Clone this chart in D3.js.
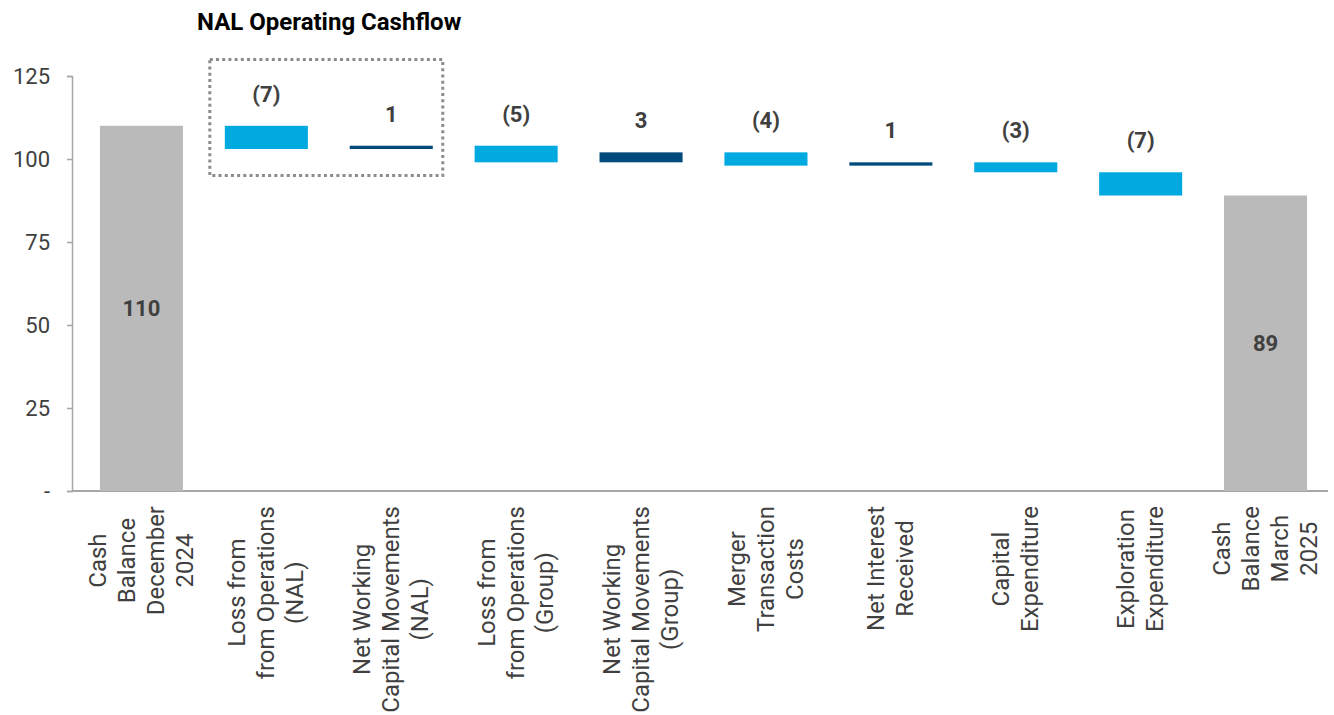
<!DOCTYPE html>
<html>
<head>
<meta charset="utf-8">
<script src="https://cdn.jsdelivr.net/npm/d3@7"></script>
<style>
  body { margin: 0; background: #fff; }
  text { font-family: Roboto, "Liberation Sans", sans-serif; }
</style>
</head>
<body>
<div id="chart"></div>
<script>
// Chart data
var categories = [
  ["Cash", "Balance", "December", "2024"],
  ["Loss from", "from Operations", "(NAL)"],
  ["Net Working", "Capital Movements", "(NAL)"],
  ["Loss from", "from Operations", "(Group)"],
  ["Net Working", "Capital Movements", "(Group)"],
  ["Merger", "Transaction", "Costs"],
  ["Net Interest", "Received"],
  ["Capital", "Expenditure"],
  ["Exploration", "Expenditure"],
  ["Cash", "Balance", "March", "2025"]
];
var values = [110, -7, 1, -5, 3, -4, 1, -3, -7, 89];
var kinds = ["total", "step", "step", "step", "step", "step", "step", "step", "step", "total"];
var yTicks = [0, 25, 50, 75, 100, 125];
var title = "NAL Operating Cashflow";

// SVG Object Dimensions
var svgWidth = 1334;
var svgHeight = 715;

var svg = d3.select("#chart")
  .append("svg")
  .attr("width", svgWidth)
  .attr("height", svgHeight);

// build waterfall rows
var running = 0;
var rows = values.map(function(v, i) {
  var r = { i: i, value: v, kind: kinds[i] };
  if (kinds[i] == "total") {
    r.y0 = 0; r.y1 = v; running = v;
  } else {
    r.y0 = running; r.y1 = running + v; running = running + v;
  }
  return r;
});

var xScale = d3.scaleBand()
  .domain(d3.range(categories.length))
  .range([79, 1328])
  .paddingInner(0.335)
  .paddingOuter(0.1675);

var yScale = d3.scaleLinear()
  .domain([0, 125])
  .range([491, 76]);

// Y axis
var leftAxis = d3.axisLeft(yScale)
  .tickValues(yTicks)
  .tickSize(5)
  .tickPadding(17)
  .tickFormat(function(d) { return d == 0 ? "-" : d; });

var yAxisG = svg.append("g")
  .attr("transform", "translate(72,0)")
  .call(leftAxis);
yAxisG.select(".domain").attr("stroke", "#a6a6a6").attr("stroke-width", 1.5);
yAxisG.selectAll(".tick line").attr("stroke", "#a6a6a6").attr("stroke-width", 1.5);
yAxisG.selectAll(".tick text")
  .attr("fill", "#404040")
  .attr("font-size", "22px");

// X axis line
svg.append("line")
  .attr("x1", 72)
  .attr("x2", 1328)
  .attr("y1", yScale(0))
  .attr("y2", yScale(0))
  .attr("stroke", "#a6a6a6")
  .attr("stroke-width", 2);

// Bars
function barColor(d) {
  if (d.kind == "total") return "#bababa";
  return d.value < 0 ? "#00a9e0" : "#004b7c";
}

svg.selectAll("rect.bar")
  .data(rows)
  .enter()
  .append("rect")
  .attr("class", "bar")
  .attr("x", d => xScale(d.i))
  .attr("width", xScale.bandwidth())
  .attr("y", d => yScale(Math.max(d.y0, d.y1)))
  .attr("height", d => Math.abs(yScale(d.y0) - yScale(d.y1)))
  .attr("fill", barColor);

// Value labels
function fmt(v) {
  return v < 0 ? "(" + Math.abs(v) + ")" : "" + v;
}

svg.selectAll("text.val")
  .data(rows)
  .enter()
  .append("text")
  .attr("class", "val")
  .attr("x", d => xScale(d.i) + xScale.bandwidth() / 2)
  .attr("y", function(d) {
    if (d.kind == "total") return (yScale(0) + yScale(d.y1)) / 2 + 8;
    return yScale(Math.max(d.y0, d.y1)) - 24;
  })
  .attr("text-anchor", "middle")
  .attr("font-size", "22px")
  .attr("font-weight", "bold")
  .attr("fill", "#404040")
  .text(d => fmt(d.value));

// Category labels (rotated, multi line)
var labelTop = 506;
var lineGap = 29;
categories.forEach(function(lines, i) {
  var cx = xScale(i) + xScale.bandwidth() / 2;
  var g = svg.append("g");
  var t = g.append("text")
    .attr("text-anchor", "middle")
    .attr("font-size", "24px")
    .attr("fill", "#404040");
  lines.forEach(function(line, k) {
    t.append("tspan")
      .attr("x", 0)
      .attr("y", (k - (lines.length - 1) / 2) * lineGap + 8)
      .text(line);
  });
  var maxW = d3.max(t.selectAll("tspan").nodes(), n => n.getComputedTextLength());
  g.attr("transform", `translate(${cx}, ${labelTop + maxW / 2}) rotate(-90)`);
});

// Dotted box round the NAL items
var boxLeft = xScale(1) - 15;
var boxRight = xScale(2) + xScale.bandwidth() + 10;
svg.append("rect")
  .attr("x", boxLeft)
  .attr("y", yScale(130))
  .attr("width", boxRight - boxLeft)
  .attr("height", yScale(95) - yScale(130))
  .attr("fill", "none")
  .attr("stroke", "#8c8c8c")
  .attr("stroke-width", 3)
  .attr("stroke-dasharray", "3,3.2");

// Title
svg.append("text")
  .attr("x", 197)
  .attr("y", 30)
  .attr("font-size", "24px")
  .attr("font-weight", "bold")
  .attr("fill", "#000")
  .text(title);
</script>
</body>
</html>
